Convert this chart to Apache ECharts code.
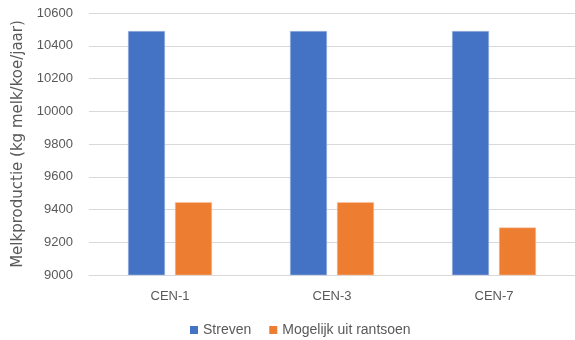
<!DOCTYPE html>
<html>
<head>
<meta charset="utf-8">
<script src="https://cdn.jsdelivr.net/npm/echarts@6/dist/echarts.min.js"></script>
<style>
    html, body { margin: 0; padding: 0; background: #fff; }
    #chart { width: 575px; height: 340px; }
</style>
</head>
<body>
<div id="chart"></div>
<script>
var categories = ['CEN-1', 'CEN-3', 'CEN-7'];
var streven = [10490, 10490, 10490];
var mogelijk = [9445, 9445, 9290];

var myChart = echarts.init(document.getElementById('chart'));

var option = {
    animation: false,
    textStyle: {
        fontFamily: 'Liberation Sans'
    },
    grid: {
        left: 89,
        width: 491,
        top: 13,
        bottom: 65
    },
    legend: {
        data: ['Streven', 'Mogelijk uit rantsoen'],
        top: 318,
        left: 185,
        itemWidth: 8,
        itemHeight: 8,
        itemGap: 18,
        icon: 'rect',
        itemStyle: { borderWidth: 0 },
        textStyle: {
            color: '#595959',
            fontSize: 14
        }
    },
    xAxis: {
        type: 'category',
        data: categories,
        axisLine: { lineStyle: { color: '#d9d9d9' } },
        axisTick: { show: false },
        axisLabel: {
            color: '#595959',
            fontSize: 13,
            margin: 15
        }
    },
    yAxis: {
        type: 'value',
        name: 'Melkproductie (kg melk/koe/jaar)',
        nameLocation: 'middle',
        nameGap: 58,
        nameTextStyle: {
            color: '#595959',
            fontSize: 15,
            fontFamily: 'DejaVu Sans'
        },
        min: 9000,
        max: 10600,
        interval: 200,
        axisLine: { show: false },
        axisTick: { show: false },
        axisLabel: {
            color: '#595959',
            fontSize: 13,
            margin: 16,
            formatter: function (v) {
                return String(v);
            }
        },
        splitLine: { lineStyle: { color: '#d9d9d9' } }
    },
    series: [
        {
            name: 'Streven',
            type: 'bar',
            barWidth: 37,
            barGap: '27%',
            itemStyle: {
                color: '#4472C4',
                borderColor: '#b4c7e7',
                borderWidth: 0.5
            },
            data: streven
        },
        {
            name: 'Mogelijk uit rantsoen',
            type: 'bar',
            barWidth: 37,
            itemStyle: {
                color: '#ED7D31',
                borderColor: '#f8cbad',
                borderWidth: 0.5
            },
            data: mogelijk
        }
    ]
};

myChart.setOption(option);
</script>
</body>
</html>
